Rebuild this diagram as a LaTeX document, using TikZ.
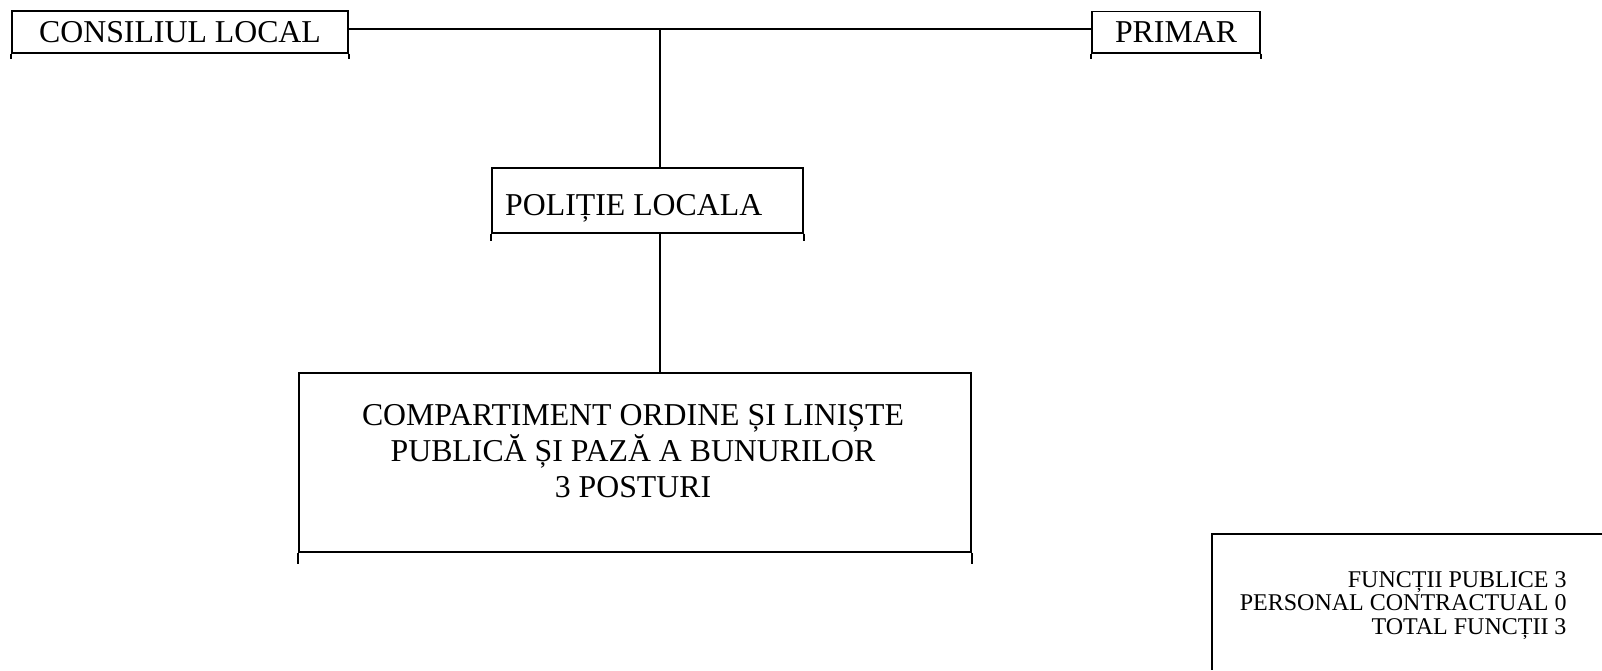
\documentclass[tikz,border=0pt]{standalone}
\usepackage{fontspec}
\setmainfont{Liberation Serif}
\begin{document}
\begin{tikzpicture}[x=1pt,y=-1pt,
  ln/.style={line width=1.9pt},
  obox/.style={draw, line width=1.9pt, inner sep=0pt},
  big/.style={font=\fontsize{31.8pt}{36pt}\selectfont},
  small/.style={font=\fontsize{24pt}{23.5pt}\selectfont}]
\useasboundingbox (0,0) rectangle (1602,670);
% boxes
\node[obox, big, minimum width=336pt, minimum height=41.7pt] (cl) at (180,31.85) {CONSILIUL LOCAL};
\node[obox, big, minimum width=167.7pt, minimum height=41.2pt] (pr) at (1176,32.1) {PRIMAR};
\node[obox, minimum width=311.6pt, minimum height=64.4pt] (pol) at (647.5,200.5) {};
\node[big, anchor=west, inner sep=0pt] (poltxt) at (505,208) {POLIȚIE LOCALA};
\node[obox, minimum width=672pt, minimum height=179.3pt] (comp) at (635,462.35) {};
\node[big, align=center, inner sep=0pt] (comptxt) at (633,451) {COMPARTIMENT ORDINE ȘI LINIȘTE\\PUBLICĂ ȘI PAZĂ A BUNURILOR\\3 POSTURI};
% side extensions below boxes
\foreach \n/\e in {cl/5.5, pr/5.5, pol/7.3, comp/11}{
  \draw[ln] (\n.south west) -- ++(0,\e);
  \draw[ln] (\n.south east) -- ++(0,\e);
}
% connectors
\coordinate (j) at (659.7,29.3);
\draw[ln] (cl.east |- j) -- (pr.west |- j);
\draw[ln] (j) -- (j |- pol.north);
\draw[ln] (j |- pol.south) -- (j |- comp.north);
% legend
\coordinate (lg) at (1211.7,534.3);
\draw[ln] (1602,534.3) -- (lg) -- (1211.7,670);
\node[small, align=right, anchor=east, inner sep=0pt] (legtxt) at (1566.7,605.5) {FUNCȚII PUBLICE 3\\PERSONAL CONTRACTUAL 0\\TOTAL FUNCȚII 3};
\end{tikzpicture}
\end{document}
